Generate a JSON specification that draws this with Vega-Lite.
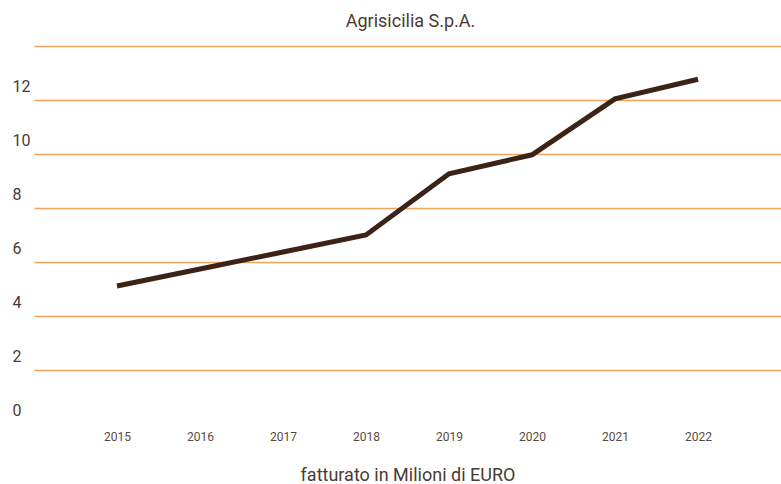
{
  "$schema": "https://vega.github.io/schema/vega-lite/v6.json",
  "width": 747,
  "height": 378,
  "autosize": "none",
  "padding": {"left": 34, "top": 46, "right": 0, "bottom": 60},
  "background": "white",
  "title": {
    "text": "Agrisicilia S.p.A.",
    "anchor": "middle",
    "baseline": "alphabetic",
    "offset": 17,
    "dy": 16,
    "font": "Roboto",
    "fontSize": 18,
    "fontWeight": "normal",
    "color": "#4a3b33",
    "dx": 3
  },
  "config": {
    "view": {"stroke": null},
    "font": "Roboto"
  },
  "data": {
    "values": [
      {"anno": "2015", "fatturato": 5.11},
      {"anno": "2016", "fatturato": 5.74},
      {"anno": "2017", "fatturato": 6.37},
      {"anno": "2018", "fatturato": 7.0},
      {"anno": "2019", "fatturato": 9.27},
      {"anno": "2020", "fatturato": 9.97},
      {"anno": "2021", "fatturato": 12.04},
      {"anno": "2022", "fatturato": 12.77}
    ]
  },
  "mark": {"type": "line", "color": "#3b2415", "strokeWidth": 5, "strokeCap": "butt", "strokeJoin": "miter"},
  "encoding": {
    "x": {
      "field": "anno",
      "type": "ordinal",
      "scale": {"type": "point", "padding": 1},
      "axis": {
        "title": "fatturato in Milioni di EURO",
        "titleFont": "Roboto",
        "titleFontSize": 18,
        "titleFontWeight": "normal",
        "titleColor": "#4a3b33",
        "titlePadding": 24,
        "labelAngle": 0,
        "labelFontSize": 12,
        "labelColor": "#5a4a42",
        "labelPadding": 7,
        "ticks": false,
        "domain": false,
        "grid": false
      }
    },
    "y": {
      "field": "fatturato",
      "type": "quantitative",
      "scale": {"domain": [0, 14], "nice": false},
      "axis": {
        "title": null,
        "values": [0, 2, 4, 6, 8, 10, 12, 14],
        "labelExpr": "datum.value == 14 ? '' : datum.label",
        "labelAlign": "left",
        "labelBaseline": "middle",
        "labelPadding": 22,
        "labelOffset": -14,
        "labelFontSize": 16,
        "labelColor": "#4a3b33",
        "ticks": false,
        "domain": false,
        "grid": true,
        "gridColor": "#f0a35a",
        "gridWidth": 1.3,
        "gridOpacity": {"condition": {"test": "datum.value == 0", "value": 0}, "value": 1}
      }
    }
  }
}
